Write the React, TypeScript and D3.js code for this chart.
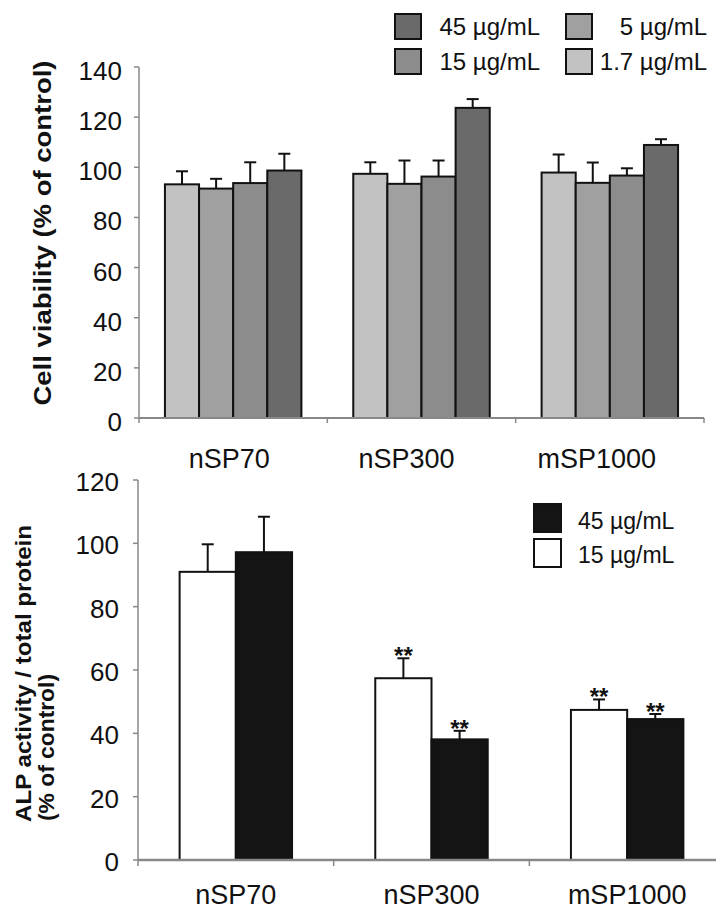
import React from 'react';
import * as d3 from 'd3';

// particle types on the x axis
const categories = ['nSP70', 'nSP300', 'mSP1000'];

// top panel: cell viability, bars drawn light to dark
const viabilitySeries = ['1.7 µg/mL', '5 µg/mL', '15 µg/mL', '45 µg/mL'];
const viabilityMeans = [
  [93.2, 91.5, 93.7, 98.7],
  [97.4, 93.4, 96.3, 123.7],
  [97.9, 93.8, 96.7, 108.9],
];
const viabilityErrors = [
  [5.2, 3.9, 8.3, 6.7],
  [4.6, 9.3, 6.4, 3.5],
  [7.2, 8.1, 2.9, 2.3],
];
const viabilityLegendOrder = ['45 µg/mL', '15 µg/mL', '5 µg/mL', '1.7 µg/mL'];
const viabilityTicks = [0, 20, 40, 60, 80, 100, 120, 140];
// the top labels sit a little left of the band centres in the original
const viabilityLabelNudge = [-4, -15, -13];

// bottom panel: ALP activity
const alpSeries = ['15 µg/mL', '45 µg/mL'];
const alpMeans = [
  [91.0, 97.2],
  [57.4, 38.1],
  [47.4, 44.5],
];
const alpErrors = [
  [8.7, 11.2],
  [6.3, 2.7],
  [3.3, 1.6],
];
const alpSignificant = [
  [false, false],
  [true, true],
  [true, true],
];
const alpLegendOrder = ['45 µg/mL', '15 µg/mL'];
const alpTicks = [0, 20, 40, 60, 80, 100, 120];

const FONT = '"Liberation Sans", Arial, sans-serif';

const viabilityColor = d3.scaleOrdinal<string, string>()
  .domain(viabilitySeries)
  .range(['#c2c2c2', '#a0a0a0', '#8c8c8c', '#6a6a6a']);

const alpColor = d3.scaleOrdinal<string, string>()
  .domain(alpSeries)
  .range(['#ffffff', '#141414']);

// small T-shaped error bar on top of a bar
function ErrorBar({ cx, y1, y2 }: { cx: number; y1: number; y2: number }) {
  return (
    <g stroke="#111" strokeWidth={2}>
      <line x1={cx} x2={cx} y1={y1} y2={y2} />
      <line x1={cx - 6} x2={cx + 6} y1={y2} y2={y2} />
    </g>
  );
}

function ViabilityPanel() {
  const left = 139, right = 704, top = 67, bottom = 418;
  const y = d3.scaleLinear().domain([0, 140]).range([bottom, top]);
  const x0 = d3.scaleBand().domain(categories).range([left, right]);
  const x1 = d3.scaleBand().domain(viabilitySeries)
    .range([0, x0.bandwidth()]).paddingOuter(0.76);
  const bw = x1.bandwidth();
  const bounds = [left, ...categories.map(c => (x0(c) as number) + x0.bandwidth())];

  return (
    <g>
      {/* legend */}
      {viabilityLegendOrder.map((s, i) => {
        const col = Math.floor(i / 2), row = i % 2;
        const bx = col === 0 ? 395 : 566;
        const tx = col === 0 ? 540 : 707;
        const by = 14 + row * 35;
        return (
          <g key={s}>
            <rect x={bx} y={by} width={26} height={25} fill={viabilityColor(s)}
              stroke="#111" strokeWidth={2} />
            <text x={tx} y={by + 21} textAnchor="end" fontSize={24} fontFamily={FONT}
              fill="#111">{s}</text>
          </g>
        );
      })}

      {/* y axis */}
      <line x1={left} x2={left} y1={top} y2={bottom} stroke="#888" strokeWidth={1.5} />
      {viabilityTicks.map(t => (
        <g key={t}>
          <line x1={left - 5} x2={left} y1={y(t)} y2={y(t)} stroke="#888" strokeWidth={1.5} />
          <text x={122} y={y(t) + 13} textAnchor="end" fontSize={26} fontFamily={FONT}
            fill="#111">{t}</text>
        </g>
      ))}
      <text transform={`translate(51, 233) rotate(-90)`} textAnchor="middle" fontSize={24}
        fontWeight="bold" fontFamily={FONT} fill="#111" textLength={345}
        lengthAdjust="spacingAndGlyphs">Cell viability (% of control)</text>

      {/* bars */}
      {categories.map((c, ci) => (
        <g key={c} transform={`translate(${x0(c)},0)`}>
          {viabilitySeries.map((s, si) => {
            const v = viabilityMeans[ci][si];
            const e = viabilityErrors[ci][si];
            const bx = x1(s) as number;
            return (
              <g key={s}>
                <ErrorBar cx={bx + bw / 2} y1={y(v)} y2={y(v + e)} />
                <rect x={bx} y={y(v)} width={bw} height={bottom - y(v)}
                  fill={viabilityColor(s)} stroke="#111" strokeWidth={2} />
              </g>
            );
          })}
        </g>
      ))}

      {/* x axis */}
      <line x1={left} x2={right} y1={bottom} y2={bottom} stroke="#888" strokeWidth={2} />
      {bounds.map(b => (
        <line key={b} x1={b} x2={b} y1={bottom} y2={bottom + 5} stroke="#888" strokeWidth={1.5} />
      ))}
      {categories.map((c, i) => (
        <text key={c} x={(x0(c) as number) + x0.bandwidth() / 2 + viabilityLabelNudge[i]} y={468}
          textAnchor="middle" fontSize={27} fontFamily={FONT} fill="#111">{c}</text>
      ))}
    </g>
  );
}

function AlpPanel() {
  const left = 138, right = 725, top = 480, bottom = 860;
  const y = d3.scaleLinear().domain([0, 120]).range([bottom, top]);
  const x0 = d3.scaleBand().domain(categories).range([left, right]);
  const x1 = d3.scaleBand().domain(alpSeries)
    .range([0, x0.bandwidth()]).paddingOuter(0.74);
  const bw = x1.bandwidth();
  const bounds = [left, ...categories.map(c => (x0(c) as number) + x0.bandwidth())];

  return (
    <g>
      {/* y axis */}
      <line x1={left} x2={left} y1={top} y2={bottom} stroke="#888" strokeWidth={1.5} />
      {alpTicks.map(t => (
        <g key={t}>
          <line x1={left - 5} x2={left} y1={y(t)} y2={y(t)} stroke="#888" strokeWidth={1.5} />
          <text x={119} y={y(t) + 11} textAnchor="end" fontSize={26} fontFamily={FONT}
            fill="#111">{t}</text>
        </g>
      ))}
      <text transform="translate(31, 822) rotate(-90)" textAnchor="start" fontSize={22}
        fontWeight="bold" fontFamily={FONT} fill="#111" textLength={297}
        lengthAdjust="spacingAndGlyphs">ALP activity / total protein</text>
      <text transform="translate(54, 821) rotate(-90)" textAnchor="start" fontSize={22}
        fontWeight="bold" fontFamily={FONT} fill="#111" textLength={147}
        lengthAdjust="spacingAndGlyphs">(% of control)</text>

      {/* legend */}
      {alpLegendOrder.map((s, i) => (
        <g key={s}>
          <rect x={534} y={504 + i * 35} width={27} height={28} fill={alpColor(s)}
            stroke="#111" strokeWidth={2} />
          <text x={578} y={529 + i * 34} fontSize={23} fontFamily={FONT}
            fill="#111">{s}</text>
        </g>
      ))}

      {/* bars */}
      {categories.map((c, ci) => (
        <g key={c} transform={`translate(${x0(c)},0)`}>
          {alpSeries.map((s, si) => {
            const v = alpMeans[ci][si];
            const e = alpErrors[ci][si];
            const bx = x1(s) as number;
            const cx = bx + bw / 2;
            return (
              <g key={s}>
                <ErrorBar cx={cx} y1={y(v)} y2={y(v + e)} />
                <rect x={bx} y={y(v)} width={bw} height={bottom - y(v)}
                  fill={alpColor(s)} stroke="#111" strokeWidth={2} />
                {alpSignificant[ci][si] && (
                  <text x={cx} y={y(v + e) + 6} textAnchor="middle" fontSize={24}
                    fontWeight="bold" fontFamily={FONT} fill="#111">**</text>
                )}
              </g>
            );
          })}
        </g>
      ))}

      {/* x axis */}
      <line x1={left} x2={right} y1={bottom} y2={bottom} stroke="#888" strokeWidth={2.5} />
      {bounds.map(b => (
        <line key={b} x1={b} x2={b} y1={bottom} y2={bottom + 6} stroke="#888" strokeWidth={1.5} />
      ))}
      {categories.map(c => (
        <text key={c} x={(x0(c) as number) + x0.bandwidth() / 2} y={904} textAnchor="middle"
          fontSize={27} fontFamily={FONT} fill="#111">{c}</text>
      ))}
    </g>
  );
}

export default function App() {
  return (
    <svg width={716} height={909} style={{ position: 'absolute', left: 0, top: 0, background: '#fff' }}>
      <rect width={716} height={909} fill="#fff" />
      <ViabilityPanel />
      <AlpPanel />
    </svg>
  );
}
